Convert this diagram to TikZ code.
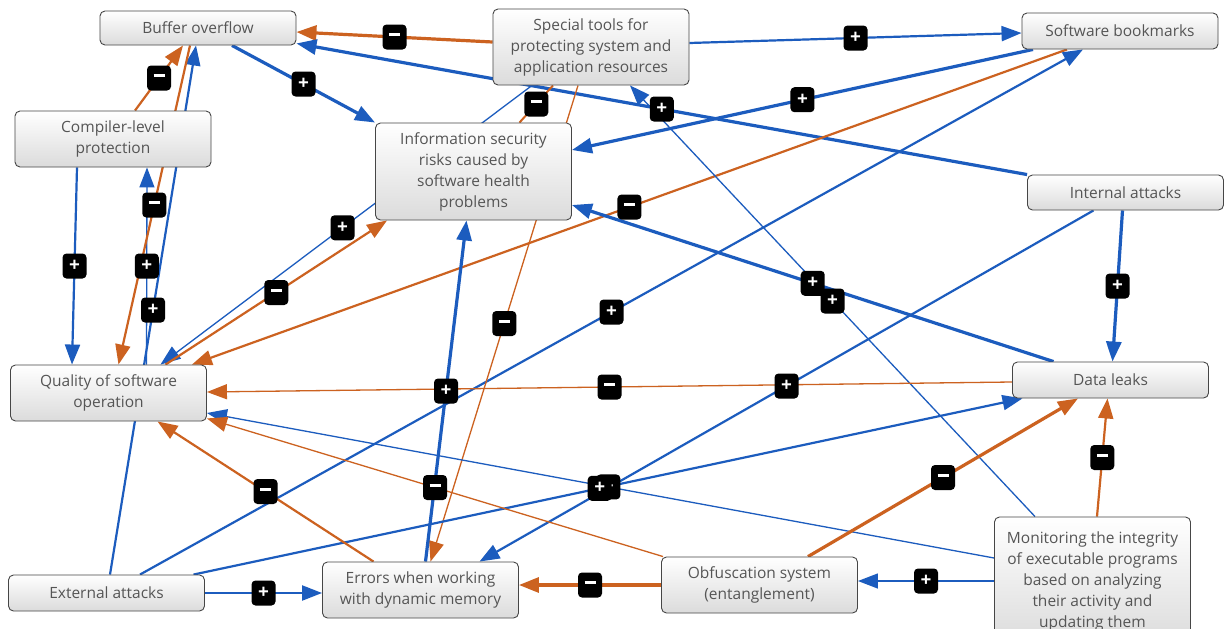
\documentclass[tikz,border=0pt]{standalone}
\usepackage{fontspec}
\setmainfont{Open Sans}
\usetikzlibrary{arrows.meta,calc}
\definecolor{eblue}{RGB}{28,92,190}
\definecolor{eorange}{RGB}{204,98,32}
\definecolor{boxtext}{RGB}{85,85,85}
\definecolor{boxline}{RGB}{70,70,70}
\pgfdeclarelayer{bgfill}
\pgfdeclarelayer{edges}
\pgfdeclarelayer{labels}
\pgfsetlayers{bgfill,edges,labels,main}
\newcommand\mns{\rule[4.6pt]{11pt}{3pt}}
\newcommand\pls{\textbf{+}}
\tikzset{
  box/.style={draw=boxline, line width=0.9pt, rounded corners=5pt, top color=white, bottom color=black!14,
    text=boxtext, font=\fontsize{15.5}{21}\selectfont, align=center, minimum width=196pt, inner sep=2pt},
  lbl/.style={fill=black, rounded corners=4pt, minimum width=24pt, minimum height=25pt, inner sep=0pt,
    text=white, font=\fontsize{19}{19}\selectfont},
  tip/.style={-{Triangle[length=20pt,width=15pt]}},
  bA/.style={draw=eblue, line width=1.3pt, tip},
  bB/.style={draw=eblue, line width=2.2pt, tip},
  bC/.style={draw=eblue, line width=3.2pt, tip},
  oA/.style={draw=eorange, line width=1.3pt, tip},
  oB/.style={draw=eorange, line width=2.2pt, tip},
  oC/.style={draw=eorange, line width=3.2pt, tip},
}
\begin{document}
\begin{tikzpicture}[x=1pt,y=-1pt]
\useasboundingbox (0,0) rectangle (1227,629);
\clip (0,0) rectangle (1227,629);
\begin{pgfonlayer}{bgfill}
\fill[white] (0,0) rectangle (1227,629);
\end{pgfonlayer}

\node[box, minimum height=34pt] (BO) at (198,28) {Buffer overflow};
\node[box, minimum height=76pt] (ST) at (591,47) {Special tools for\\protecting system and\\application resources};
\node[box, minimum height=36pt] (SB) at (1120,31) {Software bookmarks};
\node[box, minimum height=56pt] (CP) at (113,139) {Compiler-level\\protection};
\node[box, minimum height=97pt] (IS) at (473.5,171.5) {Information security\\risks caused by\\software health\\problems};
\node[box, minimum height=35pt] (IA) at (1125.5,192.5) {Internal attacks};
\node[box, minimum height=56pt] (Q) at (108.5,393) {Quality of software\\operation};
\node[box, minimum height=36pt] (DL) at (1110.5,380) {Data leaks};
\node[box, minimum height=36pt] (EA) at (106.5,593) {External attacks};
\node[box, minimum height=56pt] (EM) at (420.5,590) {Errors when working\\with dynamic memory};
\node[box, minimum height=56pt] (OS) at (759.5,585) {Obfuscation system\\(entanglement)};
\node[box, minimum height=128pt] (M) at (1092.5,581) {Monitoring the integrity\\of executable programs\\based on analyzing\\their activity and\\updating them};

\begin{pgfonlayer}{edges}
\draw[oC] ([yshift=5pt]ST.west) -- ([yshift=-4pt]BO.east) coordinate[pos=.5] (l1);
\draw[bC] (IA.north west) -- ([yshift=2pt]BO.south east) coordinate[pos=.5] (l2);
\draw[bC] ([xshift=34pt]BO.south) -- (IS.north west) coordinate[pos=.5] (l3);
\draw[bB] ([yshift=4pt]ST.east) -- ([yshift=-2pt]SB.west) coordinate[pos=.5] (l4);
\draw[bC] ([xshift=-87pt]SB.south) -- ([yshift=21.5pt]IS.east) coordinate[pos=.5] (l5);
\draw[oB] ([xshift=-53pt]SB.south) -- ([xshift=-15pt]Q.north east) coordinate[pos=.5] (l6);
\draw[bB] ([xshift=33.5pt]EA.north) -- ([xshift=-37pt]SB.south) coordinate[pos=.5] (l7);
\draw[bB] ([xshift=3.5pt]EA.north) -- ([xshift=-2pt]BO.south) coordinate[pos=.5] (l8);
\draw[bB] ([xshift=-36pt]CP.south) -- ([xshift=-36.5pt]Q.north) coordinate[pos=.5] (l9);
\draw[bA] ([xshift=38pt]Q.north) -- ([xshift=34pt]CP.south) coordinate[pos=.5] (l10);
\draw[oB] ([xshift=22pt]CP.north) -- ([xshift=-15pt]BO.south) coordinate[pos=.5] (l11);
\draw[oB] ([xshift=-8pt]BO.south) -- ([xshift=10pt]Q.north) coordinate[pos=.5] (l12);
\draw[bA] ([xshift=-59pt]ST.south) -- ([xshift=52pt]Q.north) coordinate[pos=.51] (l13);
\draw[oB] ([xshift=57pt]Q.north) -- ([xshift=12pt]IS.south west) coordinate[pos=.5] (l14);
\draw[draw=eorange, line width=2pt] ([xshift=-38pt]ST.south) -- ([xshift=46pt]IS.north) coordinate[pos=.5] (l15);
\draw[oA] ([xshift=-13pt]ST.south) -- ([xshift=10pt]EM.north) coordinate[pos=.5] (l16);
\draw[bC] ([xshift=5pt]EM.north) -- ([xshift=-7pt]IS.south) coordinate[pos=.5] (l17);
\draw[bC] ([xshift=-57pt]DL.north) -- ([yshift=-33.5pt]IS.east) coordinate[pos=.5] (l18);
\draw[bA] ([xshift=-57.5pt]M.north) -- ([xshift=39pt]ST.south) coordinate[pos=.5] (l19);
\draw[bB] ([xshift=-32pt]IA.south) -- ([xshift=59pt]EM.north) coordinate[pos=.5] (l20);
\draw[bC] ([xshift=-3pt]IA.south) -- ([xshift=2pt]DL.north) coordinate[pos=.5] (l21);
\draw[oA] ([yshift=-2pt]DL.west) -- ([yshift=1pt]Q.east) coordinate[pos=.5] (l22);
\draw[bA] ([yshift=23pt]M.west) -- ([yshift=-20pt]Q.east) coordinate[pos=.49] (l23);
\draw[bB] ([xshift=87pt]EA.north) -- ([xshift=-88pt]DL.south) coordinate[pos=.49] (l24);
\draw[oA] ([xshift=2pt]OS.north west) -- ([yshift=3pt]Q.south east) coordinate[pos=.5] (l25);
\draw[oB] ([xshift=-47pt]EM.north) -- ([xshift=49pt]Q.south) coordinate[pos=.5] (l26);
\draw[bB] (EA.east) -- (EA.east -| EM.west) coordinate[pos=.5] (l27);
\draw[oC] (OS.west) -- (OS.west -| EM.east) coordinate[pos=.5] (l28);
\draw[bA] (M.west) -- (M.west -| OS.east) coordinate[pos=.5] (l29);
\draw[oB] ([xshift=4.5pt]M.north) -- ([xshift=-3pt]DL.south) coordinate[pos=.5] (l30);
\draw[oC] ([xshift=48.5pt]OS.north) -- ([xshift=-32.5pt]DL.south) coordinate[pos=.5] (l31);
\end{pgfonlayer}

\begin{pgfonlayer}{labels}
\node[lbl] (m1) at (l1) {\mns};
\node[lbl] (m2) at (l2) {\pls};
\node[lbl] (m3) at (l3) {\pls};
\node[lbl] (m4) at (l4) {\pls};
\node[lbl] (m5) at (l5) {\pls};
\node[lbl] (m6) at (l6) {\mns};
\node[lbl] (m7) at (l7) {\pls};
\node[lbl] (m8) at (l8) {\pls};
\node[lbl] (m9) at (l9) {\pls};
\node[lbl] (m10) at (l10) {\pls};
\node[lbl] (m11) at (l11) {\mns};
\node[lbl] (m12) at (l12) {\mns};
\node[lbl] (m13) at (l13) {\pls};
\node[lbl] (m14) at (l14) {\mns};
\node[lbl] (m15) at (l15) {\mns};
\node[lbl] (m16) at (l16) {\mns};
\node[lbl] (m17) at (l17) {\pls};
\node[lbl] (m18) at (l18) {\pls};
\node[lbl] (m19) at (l19) {\pls};
\node[lbl] (m20) at (l20) {\pls};
\node[lbl] (m21) at (l21) {\pls};
\node[lbl] (m22) at (l22) {\mns};
\node[lbl] (m23) at (l23) {\pls};
\node[lbl] (m24) at (l24) {\pls};
\node[lbl] (m25) at (l25) {\mns};
\node[lbl] (m26) at (l26) {\mns};
\node[lbl] (m27) at (l27) {\pls};
\node[lbl] (m28) at (l28) {\mns};
\node[lbl] (m29) at (l29) {\pls};
\node[lbl] (m30) at (l30) {\mns};
\node[lbl] (m31) at (l31) {\mns};
\end{pgfonlayer}
\end{tikzpicture}
\end{document}
